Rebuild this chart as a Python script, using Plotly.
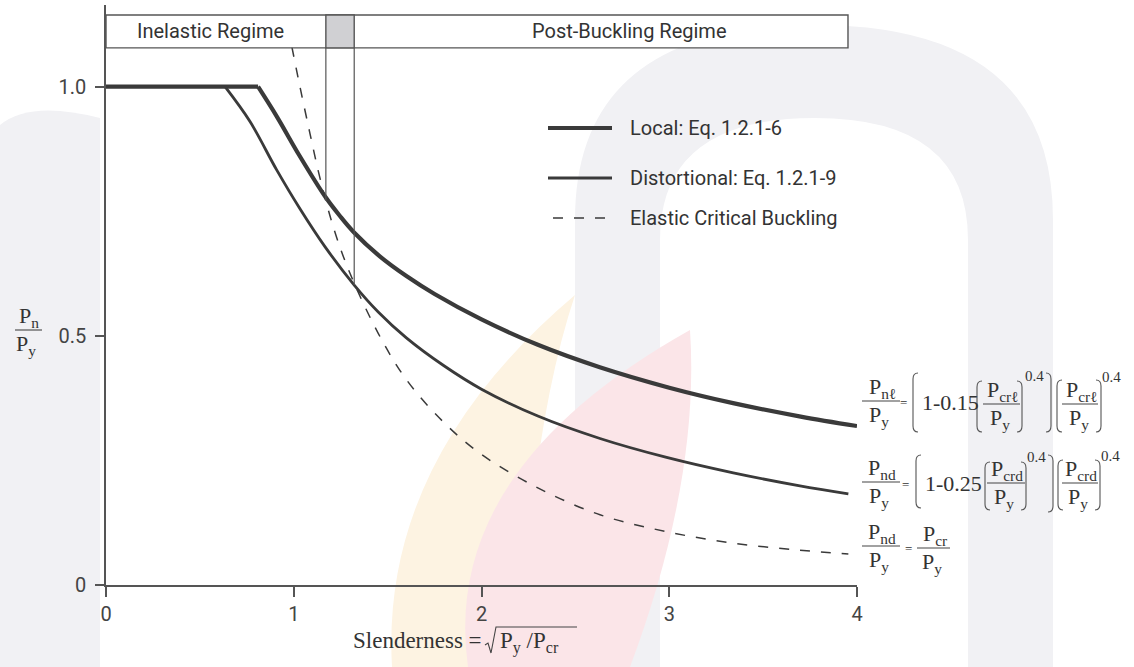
import plotly.graph_objects as go
import numpy as np

# ---------------- data ----------------
lam_local = [0.0, 0.81, 0.91, 1.03, 1.17, 1.245, 1.32, 1.46, 1.60, 1.75, 2.00, 2.30, 2.63, 3.00, 3.34, 3.70, 4.00]
p_local = [1.0, 1.0, 0.94, 0.862, 0.778, 0.741, 0.708, 0.659, 0.620, 0.584, 0.533, 0.482, 0.437, 0.396, 0.365, 0.338, 0.319]

lam_dist = [0.0, 0.634, 0.767, 0.909, 1.033, 1.166, 1.322, 1.45, 1.60, 1.80, 2.00, 2.30, 2.631, 2.986, 3.341, 3.696, 3.954]
p_dist = [1.0, 1.0, 0.930, 0.833, 0.755, 0.679, 0.602, 0.548, 0.496, 0.440, 0.393, 0.339, 0.294, 0.256, 0.225, 0.199, 0.183]

lam_elastic = [0.99, 1.033, 1.087, 1.131, 1.175, 1.229, 1.30, 1.45, 1.60, 1.80, 2.00, 2.30, 2.631, 2.986, 3.341, 3.696, 3.954]
p_elastic = [1.08, 1.00, 0.905, 0.830, 0.765, 0.697, 0.625, 0.505, 0.412, 0.326, 0.262, 0.195, 0.141, 0.107, 0.084, 0.070, 0.062]

regime_bounds = [1.171, 1.322]
header_end = 3.952
header_band = [1.078, 1.144]

x_ticks = [0, 1, 2, 3, 4]
x_tick_labels = ["0", "1", "2", "3", "4"]
y_ticks = [0, 0.5, 1.0]
y_tick_labels = ["0", "0.5", "1.0"]
regime_labels = ["Inelastic Regime", "Post-Buckling Regime"]
legend_labels = ["Local: Eq. 1.2.1-6", "Distortional: Eq. 1.2.1-9", "Elastic Critical Buckling"]

# ---------------- geometry ----------------
W, H = 1134, 667
ML, MR, MT, MB = 106, 277, 5, 82
PW, PH = W - ML - MR, H - MT - MB


def px(x):
    return (x - ML) / PW


def py(y):
    return (H - MB - y) / PH


def P(x, y):
    return f"{px(x):.5f},{py(y):.5f}"


INK = "#3a3a3a"
AX = "#555555"
SANS = "Roboto, Arial, sans-serif"
SERIF = "Liberation Serif, Times New Roman, serif"

fig = go.Figure()


# ---------------- curves ----------------
def add_curve(lam, p, width, dash="solid", split=True):
    if split:
        fig.add_trace(go.Scatter(x=lam[:2], y=p[:2], mode="lines",
                                 line=dict(color=INK, width=width),
                                 cliponaxis=False, showlegend=False, hoverinfo="skip"))
        xs, ys = lam[1:], p[1:]
    else:
        xs, ys = lam, p
    fig.add_trace(go.Scatter(x=xs, y=ys, mode="lines",
                             line=dict(color=INK, width=width, dash=dash, shape="spline", smoothing=1.0),
                             cliponaxis=False, showlegend=False, hoverinfo="skip"))


add_curve(lam_local, p_local, 4.2)
add_curve(lam_dist, p_dist, 2.8)
add_curve(lam_elastic, p_elastic, 1.5, dash="10px,11px", split=False)

shapes = []
annotations = []

# ---------------- watermark (faint background) ----------------
wm_gray = "#f1f1f4"
shapes.append(dict(type="path", xref="paper", yref="paper", layer="below", line=dict(width=0),
                   fillcolor=wm_gray,
                   path=f"M {P(0,667)} L {P(0,125)} Q {P(30,100)} {P(100,118)} L {P(100,667)} Z"))
shapes.append(dict(type="path", xref="paper", yref="paper", layer="below", line=dict(width=0),
                   fillcolor=wm_gray,
                   path=(f"M {P(575,667)} L {P(575,220)} Q {P(575,25)} {P(815,25)} Q {P(1053,25)} {P(1053,220)} "
                         f"L {P(1053,667)} L {P(968,667)} L {P(968,240)} Q {P(968,118)} {P(815,118)} "
                         f"Q {P(660,118)} {P(660,240)} L {P(660,667)} Z")))
shapes.append(dict(type="path", xref="paper", yref="paper", layer="below", line=dict(width=0),
                   fillcolor="#fdf3e2",
                   path=f"M {P(392,667)} Q {P(380,460)} {P(575,295)} Q {P(530,430)} {P(520,667)} Z"))
shapes.append(dict(type="path", xref="paper", yref="paper", layer="below", line=dict(width=0),
                   fillcolor="#fbe5e8",
                   path=f"M {P(468,667)} Q {P(440,470)} {P(690,330)} Q {P(700,480)} {P(630,667)} Z"))

# ---------------- header box ----------------
shapes.append(dict(type="rect", xref="x", yref="y", x0=0, x1=header_end, y0=header_band[0], y1=header_band[1],
                   line=dict(color=AX, width=1.4), fillcolor="white", layer="above"))
shapes.append(dict(type="rect", xref="x", yref="y", x0=regime_bounds[0], x1=regime_bounds[1],
                   y0=header_band[0], y1=header_band[1],
                   line=dict(color=AX, width=1.4), fillcolor="#d0d0d3", layer="above"))
ends = [float(np.interp(regime_bounds[0], lam_elastic, p_elastic)),
        float(np.interp(regime_bounds[1], lam_dist, p_dist))]
for b, e in zip(regime_bounds, ends):
    shapes.append(dict(type="line", xref="x", yref="y", x0=b, x1=b, y0=header_band[0], y1=e,
                       line=dict(color=AX, width=1.2), layer="above"))

annotations.append(dict(x=regime_bounds[0] / 2 - 0.03, y=sum(header_band) / 2, xref="x", yref="y",
                        text=regime_labels[0], showarrow=False, font=dict(family=SANS, size=20, color="#333")))
annotations.append(dict(x=2.79, y=sum(header_band) / 2, xref="x", yref="y",
                        text=regime_labels[1], showarrow=False, font=dict(family=SANS, size=20, color="#333")))

# ---------------- legend (manual) ----------------
leg_rows = [(128, 4.2, "solid", 548), (178, 2.8, "solid", 548), (218, 1.6, "10px,11px", 553)]
for (yy, lw, dsh, x0), lab in zip(leg_rows, legend_labels):
    shapes.append(dict(type="line", xref="paper", yref="paper", x0=px(x0), x1=px(612), y0=py(yy), y1=py(yy),
                       line=dict(color=INK, width=lw, dash=dsh)))
    annotations.append(dict(x=px(628), y=py(yy), xref="paper", yref="paper", text=lab, showarrow=False,
                            xanchor="left", yanchor="middle", font=dict(family=SANS, size=20, color="#333")))


# ---------------- math helpers ----------------
def txt(x, y, s, size=22, anchor="center", family=SERIF, color="#333"):
    annotations.append(dict(x=px(x), y=py(y), xref="paper", yref="paper", text=s, showarrow=False,
                            xanchor=anchor, yanchor="middle", font=dict(family=family, size=size, color=color)))


def bar(x0, x1, y, w=1.1):
    shapes.append(dict(type="line", xref="paper", yref="paper", x0=px(x0), x1=px(x1), y0=py(y), y1=py(y),
                       line=dict(color="#444", width=w)))


def bracket(x, yt, yb, left=True, w=5):
    d = w if left else -w
    path = (f"M {P(x + d, yt)} Q {P(x, yt)} {P(x, yt + 6)} L {P(x, yb - 6)} Q {P(x, yb)} {P(x + d, yb)}")
    shapes.append(dict(type="path", xref="paper", yref="paper", path=path, line=dict(color="#555", width=1.1)))


def frac(cx, num, den, ybar, x0, x1, size=22):
    txt(cx, ybar - 13, num, size)
    txt(cx - 3, ybar + 15, den, size)
    bar(x0, x1, ybar)


# y-axis title
frac(29, "P<sub>n</sub>", "P<sub>y</sub>", 330, 15, 42)

# x-axis title
txt(484, 640, "Slenderness =", 23, anchor="right")
shapes.append(dict(type="path", xref="paper", yref="paper",
                   path=f"M {P(485,645)} L {P(488,643)} L {P(491,653)} L {P(496,627)} L {P(577,627)}",
                   line=dict(color="#444", width=1.1)))
txt(498, 642, "P<sub>y</sub> /P<sub>cr</sub>", 23, anchor="left")

# equation 1 (local)
frac(882, "P<sub>nℓ</sub>", "P<sub>y</sub>", 401, 862, 900)
txt(904, 403, "=", 13)
bracket(913, 373, 432)
txt(920, 402, "1-0.15", 22, anchor="left")
bracket(977, 381, 432)
frac(1003, "P<sub>crℓ</sub>", "P<sub>y</sub>", 404, 983, 1020)
bracket(1022, 381, 432, left=False)
txt(1034, 376, "0.4", 15)
bracket(1051, 373, 432, left=False)
bracket(1057, 380, 432)
frac(1082, "P<sub>crℓ</sub>", "P<sub>y</sub>", 404, 1062, 1098)
bracket(1101, 380, 432, left=False)
txt(1111, 377, "0.4", 15)

# equation 2 (distortional)
frac(882, "P<sub>nd</sub>", "P<sub>y</sub>", 482, 862, 900)
txt(905, 484, "=", 13)
bracket(916, 455, 508)
txt(923, 483, "1-0.25", 22, anchor="left")
bracket(985, 462, 510)
frac(1007, "P<sub>crd</sub>", "P<sub>y</sub>", 483, 987, 1025)
bracket(1026, 462, 510, left=False)
txt(1036, 457, "0.4", 15)
bracket(1053, 455, 512, left=False)
bracket(1058, 460, 510)
frac(1081, "P<sub>crd</sub>", "P<sub>y</sub>", 483, 1062, 1098)
bracket(1100, 460, 510, left=False)
txt(1110, 456, "0.4", 15)

# equation 3 (elastic)
frac(882, "P<sub>nd</sub>", "P<sub>y</sub>", 546, 862, 900)
txt(908, 548, "=", 13)
frac(935, "P<sub>cr</sub>", "P<sub>y</sub>", 548, 917, 950)

# ---------------- layout ----------------
fig.update_layout(
    width=W, height=H,
    margin=dict(l=ML, r=MR, t=MT, b=MB, pad=0),
    paper_bgcolor="white", plot_bgcolor="rgba(0,0,0,0)",
    showlegend=False,
    shapes=shapes, annotations=annotations,
    xaxis=dict(range=[0, 4], tickvals=x_ticks, ticktext=x_tick_labels, showline=True, linecolor=AX,
               linewidth=1.5, ticks="outside", ticklen=10, tickwidth=1.5, tickcolor=AX,
               showgrid=False, zeroline=False, tickfont=dict(family=SANS, size=20, color="#444")),
    yaxis=dict(range=[0, PH / 498.3], tickvals=y_ticks, ticktext=y_tick_labels, showline=True, linecolor=AX,
               linewidth=1.5, ticks="outside", ticklen=9, tickwidth=1.5, tickcolor=AX, ticklabelstandoff=5,
               showgrid=False, zeroline=False, tickfont=dict(family=SANS, size=20, color="#444")),
)

fig.write_html("out.html", config={"displayModeBar": False},
               post_script="document.body.style.margin='0';document.body.style.overflow='hidden';")
